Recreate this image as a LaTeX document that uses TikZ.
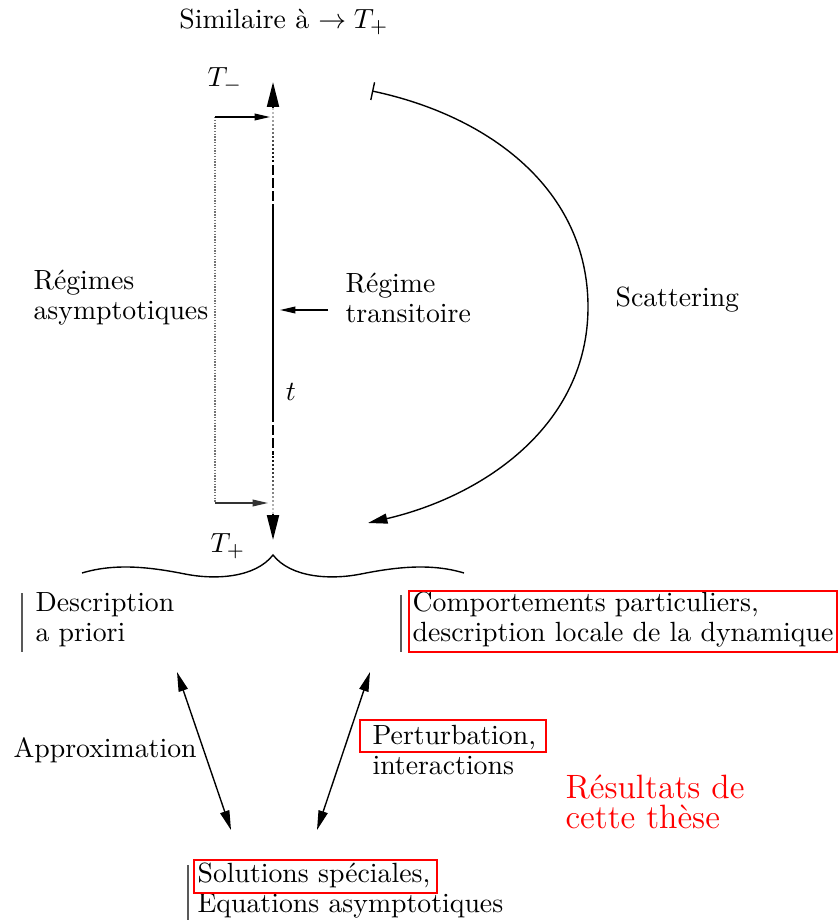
\documentclass[tikz,border=0pt]{standalone}
\usetikzlibrary{arrows.meta}
\begin{document}
\begin{tikzpicture}[x=0.36pt,y=-0.36pt,
  txt/.style={inner sep=0pt,align=left,font=\fontsize{10}{10.8}\selectfont},
  redtxt/.style={inner sep=0pt,align=left,text=red,font=\fontsize{12.15}{10.8}\selectfont},
  bigtip/.style={-{Triangle[length=9pt,width=4.3pt]}},
  smalltip/.style={-{Triangle[length=5.5pt,width=2.4pt]}},
  dbltip/.style={{Triangle[length=7pt,width=3.4pt]}-{Triangle[length=7pt,width=3.4pt]}},
  thinline/.style={line width=0.5pt},
  mainline/.style={line width=0.8pt},
  rbox/.style={draw=red,line width=0.5pt},
  vbar/.style={draw=black!65,line width=0.6pt}]

\useasboundingbox (0,0) rectangle (838,920);

% titles and labels
\node[txt] (sim) at (284,22) {Similaire à $\to T_+$};
\node[txt] (tm) at (225,80) {$T_-$};
\node[txt] (tp) at (228,546) {$T_+$};
\node[txt] (tl) at (291,392) {$t$};

% main time axis
\coordinate (toptip) at (273,82);
\coordinate (topbase) at (273,108);
\coordinate (botbase) at (273,513);
\coordinate (bottip) at (273,540);
\draw[mainline,bigtip] (topbase) -- (toptip);
\draw[mainline,bigtip] (botbase) -- (bottip);
\foreach \i in {0,...,13}{
  \pgfmathtruncatemacro\c{20+80*\i/13}
  \draw[mainline,black!\c] (273,{108+4*\i}) -- ++(0,2);
}
\draw[mainline,dash pattern=on 3.6pt off 1.1pt] (273,165) -- (273,210);
\draw[mainline] (273,210) -- (273,412);
\draw[mainline,dash pattern=on 3.6pt off 1.1pt] (273,412) -- (273,455);
\foreach \i in {0,...,14}{
  \pgfmathtruncatemacro\c{100-80*\i/14}
  \draw[mainline,black!\c] (273,{456+4*\i}) -- ++(0,2);
}

% asymptotic bracket
\coordinate (la) at (215,117);
\coordinate (lb) at (215,503);
\coordinate (ra) at (270,117);
\coordinate (rb) at (268,503);
\draw[black!55,line width=0.6pt,dash pattern=on 0.5pt off 0.5pt] (la) -- (lb);
\draw[thinline,smalltip] (la) -- (ra);
\draw[thinline,smalltip,black!80] (lb) -- (rb);

\node[txt,anchor=west] (regs) at (33,298) {Régimes\\asymptotiques};
\node[txt,anchor=west] (regt) at (345,298) {Régime\\transitoire};
\coordinate (ta) at (328,310);
\coordinate (tb) at (280,310);
\draw[thinline,smalltip] (ta) -- (tb);

% scattering arc
\node[txt,anchor=west] (sc) at (615,300) {Scattering};
\coordinate (as) at (372,91);
\coordinate (ae) at (368,523);
\draw[thinline,{Bar[width=6.5pt]}-{Triangle[length=7pt,width=3.6pt]}] (as)
  .. controls (490,116) and (588,190) .. (588,307)
  .. controls (588,425) and (484,496) .. (ae);

% brace
\draw[thinline] (82,573) .. controls (115,563) and (150,567) .. (185,574)
  .. controls (215,580) and (255,578) .. (273,555)
  .. controls (291,578) and (331,580) .. (361,574)
  .. controls (396,567) and (431,563) .. (464,573);

% descriptions
\node[txt,anchor=west] (desc) at (35,620) {Description\\a priori};
\draw[vbar] (22,593) -- (22,652);
\node[txt,anchor=west] (comp) at (412,620) {Comportements particuliers,\\description locale de la dynamique};
\draw[vbar] (401,595) -- (401,652);
\draw[rbox] (409,591) rectangle (837,652);

% double arrows
\coordinate (a1) at (177,672);
\coordinate (a2) at (231,830);
\coordinate (p1) at (370,672);
\coordinate (p2) at (317,830);
\draw[thinline,dbltip] (a1) -- (a2);
\draw[thinline,dbltip] (p1) -- (p2);

\node[txt,anchor=west] (appr) at (13,750) {Approximation};
\node[txt,anchor=west] (pert) at (372,750) {Perturbation,\\interactions};
\draw[rbox] (360,720) rectangle (546,752);

\node[redtxt,anchor=west] (res) at (565,802) {Résultats de\\cette thèse};

\node[txt,anchor=west] (sol) at (197,891) {Solutions spéciales,\\Equations asymptotiques};
\draw[vbar] (188,865) -- (188,920);
\draw[rbox] (194,860) rectangle (437,893);
\end{tikzpicture}
\end{document}
